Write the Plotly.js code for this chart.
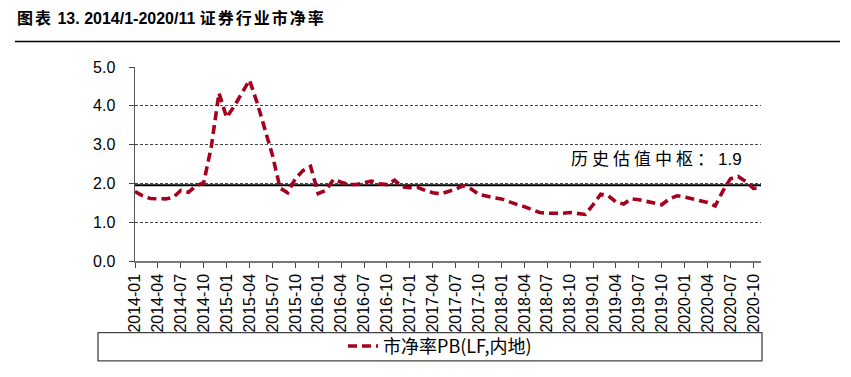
<!DOCTYPE html>
<html>
<head>
<meta charset="utf-8">
<script src="https://cdn.plot.ly/plotly-3.0.1.min.js"></script>
<style>
  html, body { margin: 0; padding: 0; background: #fff; }
  #chart { width: 851px; height: 377px; }
</style>
</head>
<body>
<div id="chart"></div>
<script>
// Monthly categories 2014-01 .. 2020-11
const months = [
  "2014-01","2014-02","2014-03","2014-04","2014-05","2014-06","2014-07","2014-08","2014-09","2014-10","2014-11","2014-12",
  "2015-01","2015-02","2015-03","2015-04","2015-05","2015-06","2015-07","2015-08","2015-09","2015-10","2015-11","2015-12",
  "2016-01","2016-02","2016-03","2016-04","2016-05","2016-06","2016-07","2016-08","2016-09","2016-10","2016-11","2016-12",
  "2017-01","2017-02","2017-03","2017-04","2017-05","2017-06","2017-07","2017-08","2017-09","2017-10","2017-11","2017-12",
  "2018-01","2018-02","2018-03","2018-04","2018-05","2018-06","2018-07","2018-08","2018-09","2018-10","2018-11","2018-12",
  "2019-01","2019-02","2019-03","2019-04","2019-05","2019-06","2019-07","2019-08","2019-09","2019-10","2019-11","2019-12",
  "2020-01","2020-02","2020-03","2020-04","2020-05","2020-06","2020-07","2020-08","2020-09","2020-10","2020-11"
];

// 市净率 PB (LF, 内地)
const pbValues = [
  1.79, 1.68, 1.61, 1.61, 1.60, 1.64, 1.82, 1.77, 1.94, 2.02, 2.95, 4.33,
  3.70, 3.99, 4.33, 4.66, 4.08, 3.40, 2.73, 1.88, 1.76, 2.12, 2.33, 2.44,
  1.74, 1.82, 2.10, 2.03, 1.97, 1.97, 2.01, 2.06, 1.99, 1.97, 2.08, 1.91,
  1.89, 1.90, 1.82, 1.76, 1.73, 1.78, 1.85, 1.94, 1.86, 1.72, 1.67, 1.63,
  1.60, 1.52, 1.46, 1.40, 1.32, 1.25, 1.23, 1.22, 1.23, 1.25, 1.23, 1.20,
  1.45, 1.72, 1.68, 1.52, 1.47, 1.60, 1.58, 1.54, 1.48, 1.45, 1.60, 1.68,
  1.65, 1.60, 1.57, 1.51, 1.42, 1.80, 2.12, 2.18, 2.05, 1.87, 1.88
];

// 历史估值中枢
const centerValue = 1.95;
const centerLabelCn = "历史估值中枢：";
const centerLabelNum = "1.9";
const seriesName = "市净率PB(LF,内地)";
const titleCn1 = "图表";
const titleNum = "13. 2014/1-2020/11";
const titleCn2 = "证券行业市净率";

const yTickVals = [0, 1, 2, 3, 4, 5];
const xTickVals = months.filter((m, i) => i % 3 === 0);

const traces = [
  {
    x: months,
    y: months.map(() => centerValue),
    type: "scatter",
    mode: "lines",
    line: { color: "#000000", width: 2 },
    showlegend: false,
    hoverinfo: "skip"
  },
  {
    x: months,
    y: pbValues,
    type: "scatter",
    mode: "lines",
    name: seriesName,
    line: { color: "#A6001F", width: 3.6, dash: "9px,5px" }
  }
];

const cnStyle = 'font-family:Noto Sans CJK SC;font-size:16px;letter-spacing:2px';

const layout = {
  width: 851,
  height: 377,
  margin: { l: 135, r: 90, t: 67, b: 112 },
  paper_bgcolor: "#ffffff",
  plot_bgcolor: "#ffffff",
  font: { family: "Liberation Sans, Arial, Noto Sans CJK SC", size: 16, color: "#000" },
  title: {
    text: '<b><span style="' + cnStyle + '">' + titleCn1 + '</span> ' + titleNum +
          ' <span style="' + cnStyle + '">' + titleCn2 + '</span></b>',
    font: { family: "Liberation Sans, Arial, Noto Sans CJK SC", size: 16, color: "#000" },
    x: 17 / 851, xanchor: "left", xref: "container",
    y: 1 - 18 / 377, yanchor: "middle", yref: "container"
  },
  xaxis: {
    type: "category",
    range: [0, months.length - 1],
    tickmode: "array",
    tickvals: xTickVals,
    ticktext: xTickVals,
    tickangle: -90,
    ticks: "outside",
    ticklen: 5,
    tickcolor: "#444",
    tickfont: { size: 16, family: "Liberation Sans, Arial" },
    showline: true,
    linecolor: "#777",
    linewidth: 1.5,
    showgrid: false,
    zeroline: false,
    fixedrange: true
  },
  yaxis: {
    range: [0, 5],
    tickmode: "array",
    tickvals: yTickVals,
    ticktext: yTickVals.map(v => v.toFixed(1)),
    ticks: "outside",
    ticklen: 5,
    tickcolor: "#444",
    ticklabelstandoff: 10,
    tickfont: { size: 16, family: "Liberation Sans, Arial" },
    showline: true,
    linecolor: "#555",
    linewidth: 1.5,
    showgrid: true,
    gridcolor: "#444",
    gridwidth: 1,
    griddash: "3px,2px",
    zeroline: false,
    fixedrange: true
  },
  showlegend: true,
  legend: {
    orientation: "h",
    x: (440 - 135) / 626,
    xanchor: "center",
    y: (265 - 352) / 198,
    yanchor: "middle",
    bgcolor: "rgba(0,0,0,0)",
    font: { size: 18, family: "Noto Sans CJK SC, Liberation Sans", color: "#000" }
  },
  annotations: [
    {
      text: '<span style="letter-spacing:4px">' + centerLabelCn + '</span>' +
            '<span style="font-family:Liberation Sans;font-size:17px">' + centerLabelNum + '</span>',
      xref: "paper", yref: "paper",
      x: (569 - 135) / 626, xanchor: "left",
      y: (265 - 159) / 198, yanchor: "middle",
      showarrow: false,
      font: { size: 17, family: "Noto Sans CJK SC, Liberation Sans", color: "#000" }
    }
  ],
  shapes: [
    {
      type: "line", xref: "paper", yref: "paper",
      x0: (15 - 135) / 626, x1: (840 - 135) / 626,
      y0: (265 - 41) / 198, y1: (265 - 41) / 198,
      line: { color: "#000", width: 1.5 }
    },
    {
      type: "rect", xref: "paper", yref: "paper",
      x0: (98 - 135) / 626, x1: (762 - 135) / 626,
      y0: (265 - 338) / 198, y1: (265 - 367) / 198,
      line: { color: "#444", width: 1.3 },
      fillcolor: "rgba(0,0,0,0)"
    }
  ]
};

Plotly.newPlot("chart", traces, layout, { displayModeBar: false, staticPlot: true });
</script>
</body>
</html>
